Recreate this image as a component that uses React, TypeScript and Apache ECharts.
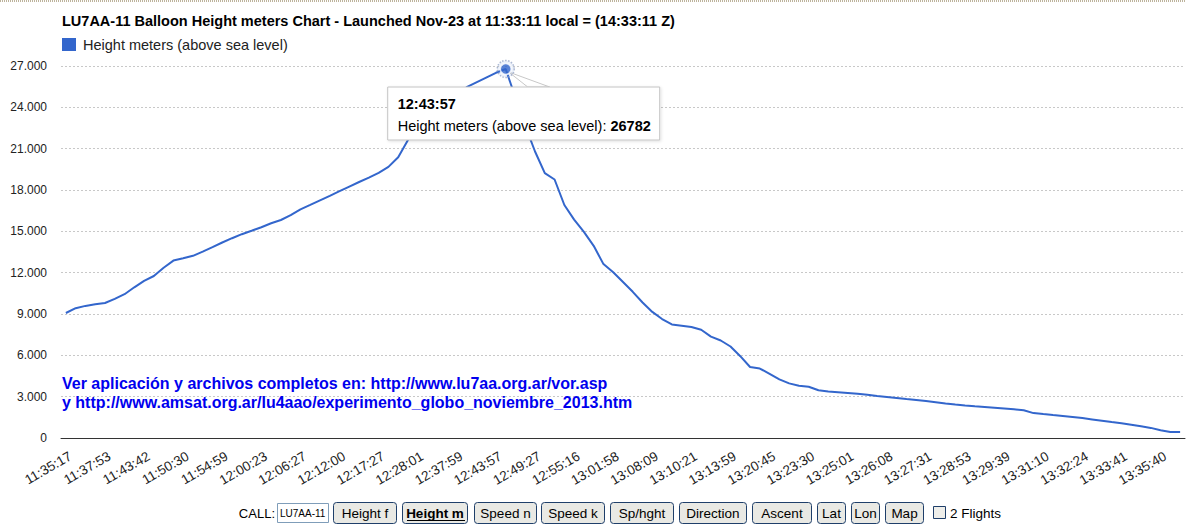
import { useEffect, useRef } from "react";
import * as echarts from "echarts";

const FONT = "Arial, 'Liberation Sans', sans-serif";

const TITLE =
  "LU7AA-11 Balloon Height meters Chart - Launched Nov-23 at 11:33:11 local = (14:33:11 Z)";
const SERIES_NAME = "Height meters (above sea level)";

// time labels shown on the x axis (every 4th sample, starting at sample 1)
const TICK_LABELS = [
  "11:35:17", "11:37:53", "11:43:42", "11:50:30", "11:54:59", "12:00:23",
  "12:06:27", "12:12:00", "12:17:27", "12:28:01", "12:37:59", "12:43:57",
  "12:49:27", "12:55:16", "13:01:58", "13:08:09", "13:10:21", "13:13:59",
  "13:20:45", "13:23:30", "13:25:01", "13:26:08", "13:27:31", "13:28:53",
  "13:29:39", "13:31:10", "13:32:24", "13:33:41", "13:35:40",
];
const LABEL_FIRST = 1;
const LABEL_EVERY = 4;

// height (m) per sample
const HEIGHTS = [
  9072, 9421, 9588, 9704, 9798, 10096, 10437, 10938, 11402, 11758,
  12360, 12876, 13043, 13224, 13522, 13855, 14190, 14501, 14792, 15039,
  15300, 15583, 15822, 16171, 16592, 16919, 17252, 17579, 17913, 18247,
  18580, 18893, 19248, 19677, 20373, 21629, 22601, 23197, 23784, 24350,
  24902, 25461, 25810, 26158, 26506, 26782, 24692, 22660, 20794, 19226,
  18762, 16911, 15851, 14959, 13950, 12622, 12026, 11322, 10611, 9835,
  9152, 8637, 8245, 8151, 8056, 7853, 7360, 7077, 6641, 5937,
  5153, 5044, 4660, 4260, 3963, 3796, 3723, 3462, 3375, 3324,
  3273, 3208, 3135, 3056, 2983, 2910, 2831, 2758, 2678, 2598,
  2511, 2431, 2366, 2308, 2257, 2199, 2141, 2083, 2018, 1807,
  1735, 1669, 1604, 1531, 1444, 1350, 1256, 1161, 1067, 965,
  849, 733, 566, 435, 435,
];

const Y_MIN = 0;
const Y_MAX = 27000;
const Y_STEP = 3000;

const NOTE_LINES = [
  "Ver aplicación y archivos completos en: http://www.lu7aa.org.ar/vor.asp",
  "y http://www.amsat.org.ar/lu4aao/experimento_globo_noviembre_2013.htm",
];

const CALL_LABEL = "CALL:";
const CALL_VALUE = "LU7AA-11";
const BUTTONS = ["Height f", "Height m", "Speed n", "Speed k", "Sp/hght", "Direction", "Ascent", "Lat", "Lon", "Map"];
const ACTIVE_BUTTON = "Height m";
const CHECKBOX_LABEL = "2 Flights";

// layout of the form controls (x, width)
const BUTTON_LAYOUT = [
  [333, 63], [402, 65], [474, 62], [541, 63], [610, 63],
  [679, 67], [752, 59], [817, 28], [851, 28], [885, 38],
];

const BLUE = "#3366cc";

function fmt(v: number) {
  return String(v).replace(/\B(?=(\d{3})+(?!\d))/g, ".");
}

export default function App() {
  const ref = useRef<HTMLDivElement>(null);

  useEffect(() => {
    if (!ref.current) return;
    const chart = echarts.init(ref.current, null, { renderer: "svg" });

    const seriesData = HEIGHTS.map((v, i) => [i, v]);
    let peakIdx = 0;
    HEIGHTS.forEach((v, i) => {
      if (v > HEIGHTS[peakIdx]) peakIdx = i;
    });
    const peakVal = HEIGHTS[peakIdx];
    const peakLabel = TICK_LABELS[Math.round((peakIdx - LABEL_FIRST) / LABEL_EVERY)];
    const labelValues = TICK_LABELS.map((_, i) => LABEL_FIRST + i * LABEL_EVERY);

    chart.setOption({
      animation: false,
      backgroundColor: "#fff",
      textStyle: { fontFamily: FONT },
      title: {
        text: TITLE,
        left: 62,
        top: 13,
        padding: 0,
        textStyle: { fontFamily: FONT, fontSize: 14.5, fontWeight: "bold", color: "#000" },
      },
      legend: {
        data: [SERIES_NAME],
        left: 62,
        top: 37,
        padding: 0,
        icon: "rect",
        itemWidth: 14,
        itemHeight: 13,
        itemGap: 6,
        textStyle: { fontFamily: FONT, fontSize: 14.5, color: "#222", padding: [0, 0, 0, 2] },
        selectedMode: false,
      },
      grid: { left: 61, right: 1, top: 66, bottom: 90 },
      xAxis: {
        type: "value",
        min: -0.5,
        max: HEIGHTS.length - 0.5,
        splitLine: { show: false },
        axisTick: { show: false },
        axisLine: { show: true, lineStyle: { color: "#333", width: 1 } },
        axisLabel: {
          customValues: labelValues,
          rotate: 30,
          margin: 14,
          padding: [0, 6, 0, 0],
          fontFamily: FONT,
          fontSize: 13.5,
          color: "#222",
          formatter: (v: number) => {
            const k = (v - LABEL_FIRST) / LABEL_EVERY;
            return Number.isInteger(k) && TICK_LABELS[k] ? TICK_LABELS[k] : "";
          },
        },
      },
      yAxis: {
        type: "value",
        min: Y_MIN,
        max: Y_MAX,
        interval: Y_STEP,
        axisLine: { show: false },
        axisTick: { show: false },
        splitLine: { show: true, lineStyle: { color: "#c8c8c8", type: [2, 2], width: 1 } },
        axisLabel: {
          margin: 14,
          fontFamily: FONT,
          fontSize: 12,
          color: "#222",
          formatter: (v: number) => fmt(v),
        },
      },
      series: [
        {
          name: SERIES_NAME,
          type: "line",
          data: seriesData,
          showSymbol: false,
          silent: true,
          color: BLUE,
          lineStyle: { color: BLUE, width: 2 },
          z: 2,
        },
        {
          type: "scatter",
          data: [[peakIdx, peakVal]],
          symbol: "circle",
          symbolSize: 17,
          silent: true,
          itemStyle: { color: "rgba(51,102,204,0.12)", borderColor: "#99a8c8", borderWidth: 1.5, borderType: "dotted" },
          z: 300,
        },
        {
          type: "scatter",
          data: [[peakIdx, peakVal]],
          symbol: "circle",
          symbolSize: 11,
          silent: true,
          itemStyle: { color: BLUE, borderColor: "#fff", borderWidth: 1.5 },
          z: 301,
        },
      ],
    });

    const [px, py] = chart.convertToPixel({ seriesIndex: 0 }, [peakIdx, peakVal]) as number[];

    const TZ = 100;
    const graphics: any[] = [];
    // top dotted border
    graphics.push({
      type: "line",
      shape: { x1: 0, y1: 1, x2: 1186, y2: 1 },
      style: { stroke: "#bdb39c", lineWidth: 2, lineDash: [1, 1] },
      silent: true,
    });
    // tooltip callout
    graphics.push({
      type: "polygon",
      z: TZ,
      shape: { points: [[px + 3, py + 3], [px + 22, py + 18], [px + 44, py + 18]] },
      style: { fill: "#fff", stroke: "#c8c8c8", lineWidth: 1 },
      silent: true,
    });
    graphics.push({
      type: "rect",
      z: TZ,
      shape: { x: px - 118, y: py + 18, width: 272, height: 53 },
      style: {
        fill: "#fff",
        stroke: "#c4c4c4",
        lineWidth: 1,
        shadowBlur: 3,
        shadowColor: "rgba(0,0,0,0.12)",
        shadowOffsetX: 1,
        shadowOffsetY: 1,
      },
      silent: true,
    });
    graphics.push({
      type: "text",
      z: TZ + 1,
      x: px - 108,
      y: py + 35,
      silent: true,
      style: {
        text: peakLabel,
        font: `bold 14.5px ${FONT}`,
        fill: "#000",
        textAlign: "left",
        textVerticalAlign: "middle",
        align: "left",
        verticalAlign: "middle",
      },
    });
    graphics.push({
      type: "text",
      z: TZ + 1,
      x: px - 108,
      y: py + 57,
      silent: true,
      style: {
        text: `{n|${SERIES_NAME}: }{b|${peakVal}}`,
        fill: "#000",
        textAlign: "left",
        textVerticalAlign: "middle",
        align: "left",
        verticalAlign: "middle",
        rich: {
          n: { fontFamily: FONT, fontSize: 14.5, color: "#000" },
          b: { fontFamily: FONT, fontSize: 14.5, fontWeight: "bold", color: "#000" },
        },
      },
    });
    // blue note
    NOTE_LINES.forEach((t, i) => {
      graphics.push({
        type: "text",
        x: 62,
        y: 383 + i * 19,
        silent: true,
        style: {
          text: t,
          font: `bold 16px ${FONT}`,
          fill: "#0000ee",
          textAlign: "left",
          textVerticalAlign: "middle",
          align: "left",
          verticalAlign: "middle",
        },
      });
    });
    // form controls
    graphics.push({
      type: "text",
      x: 275,
      y: 513,
      silent: true,
      style: { text: CALL_LABEL, font: `13px ${FONT}`, fill: "#000", textAlign: "right", textVerticalAlign: "middle", align: "right", verticalAlign: "middle" },
    });
    graphics.push({
      type: "rect",
      shape: { x: 277.5, y: 503.5, width: 51, height: 19 },
      style: { fill: "#fff", stroke: "#7f9db9", lineWidth: 1 },
      silent: true,
    });
    graphics.push({
      type: "text",
      x: 280,
      y: 513.5,
      silent: true,
      style: { text: CALL_VALUE, font: `10px ${FONT}`, fill: "#000", textAlign: "left", textVerticalAlign: "middle", align: "left", verticalAlign: "middle" },
    });
    BUTTONS.forEach((b, i) => {
      const [bx, bw] = BUTTON_LAYOUT[i];
      const active = b === ACTIVE_BUTTON;
      graphics.push({
        type: "rect",
        shape: { x: bx + 0.5, y: 502.5, width: bw, height: 21, r: 3 },
        style: { fill: "#e9e9e4", stroke: "#1f3f6a", lineWidth: 1 },
        silent: true,
      });
      graphics.push({
        type: "text",
        x: bx + bw / 2 + 0.5,
        y: 513,
        silent: true,
        style: {
          text: b,
          font: `${active ? "bold " : ""}13.5px ${FONT}`,
          fill: "#000",
          textAlign: "center",
          textVerticalAlign: "middle",
          align: "center",
          verticalAlign: "middle",
        },
      });
      if (active) {
        graphics.push({
          type: "line",
          shape: { x1: bx + 5, y1: 520.5, x2: bx + bw - 2, y2: 520.5 },
          style: { stroke: "#000", lineWidth: 1 },
          silent: true,
        });
      }
    });
    graphics.push({
      type: "rect",
      shape: { x: 933.5, y: 506.5, width: 12, height: 12 },
      style: { fill: "#eeeeea", stroke: "#1f3f6a", lineWidth: 1 },
      silent: true,
    });
    graphics.push({
      type: "text",
      x: 950,
      y: 513,
      silent: true,
      style: { text: CHECKBOX_LABEL, font: `13.5px ${FONT}`, fill: "#000", textAlign: "left", textVerticalAlign: "middle", align: "left", verticalAlign: "middle" },
    });

    chart.setOption({ graphic: graphics });

    return () => chart.dispose();
  }, []);

  return (
    <div
      ref={ref}
      style={{ position: "fixed", left: 0, top: 0, width: 1186, height: 528, background: "#fff" }}
    />
  );
}
